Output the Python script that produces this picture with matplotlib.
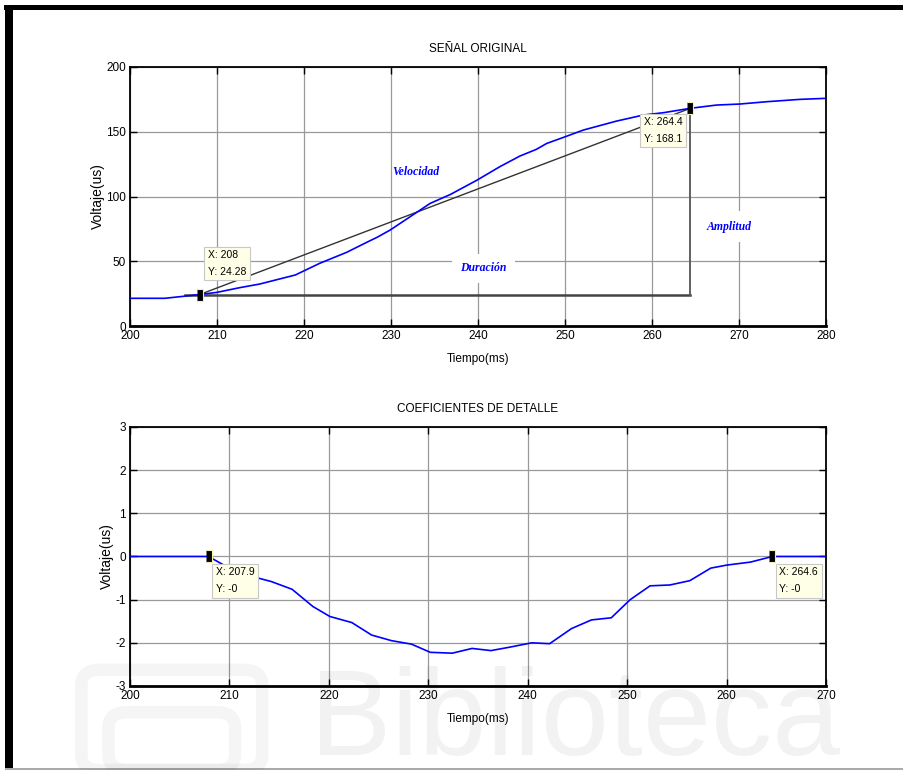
import matplotlib.pyplot as plt
from matplotlib.patches import Rectangle, FancyBboxPatch

plt.rcParams['font.family'] = ['Liberation Sans Narrow', 'Liberation Sans', 'DejaVu Sans']
plt.rcParams['axes.unicode_minus'] = False

# señal original (ms, us)
t_sig = [200, 204, 208, 210, 212.6, 214.9, 219, 221.8, 224.9, 227.2, 228.4, 229.9,
         232.2, 234.5, 236.8, 239.9, 242.5, 244.8, 246.7, 247.9, 249.8, 252.1,
         255.9, 259, 261.3, 264.4, 267.4, 270.1, 273.2, 277, 280]
v_sig = [21.4, 21.4, 24.28, 26, 29.6, 32.4, 39.4, 48.4, 56.9, 64.6, 68.5, 74.1,
         84.4, 94.7, 101.5, 112.7, 123, 131.2, 136.4, 141, 145.6, 151.3,
         158.2, 162.9, 164.7, 168.1, 170.6, 171.4, 173.2, 175, 175.8]

# coeficientes de detalle
t_det = [200, 207.9, 209.9, 212.4, 214.2, 216.3, 218.4, 220.1, 222.3, 224.3, 226.3,
         228.3, 230.2, 232.4, 234.4, 236.3, 238.2, 240.4, 242.2, 244.4, 246.4,
         248.4, 250.3, 252.3, 254.3, 256.3, 258.4, 260.0, 262.4, 264.6, 270]
v_det = [0, 0, -0.26, -0.47, -0.58, -0.76, -1.16, -1.39, -1.53, -1.82, -1.95,
         -2.03, -2.22, -2.24, -2.13, -2.18, -2.10, -2.0, -2.02, -1.67, -1.47,
         -1.42, -1.0, -0.68, -0.66, -0.56, -0.27, -0.20, -0.13, 0, 0]

# data tips
tips_sig = [(208, 24.28, 'X: 208\nY: 24.28'), (264.4, 168.1, 'X: 264.4\nY: 168.1')]
tips_det = [(207.9, 0, 'X: 207.9\nY: -0'), (264.6, 0, 'X: 264.6\nY: -0')]

x_ticks_sig = list(range(200, 281, 10))
y_ticks_sig = list(range(0, 201, 50))
x_ticks_det = list(range(200, 271, 10))
y_ticks_det = list(range(-3, 4))

BLUE = '#0000ff'
tip_marker = [(-0.5, -1), (0.5, -1), (0.5, 1), (-0.5, 1)]

fig = plt.figure(figsize=(9.04, 7.70), dpi=100)
fig.patch.set_facecolor('white')


def style_axes(ax, xt, yt):
    ax.set_xticks(xt)
    ax.set_yticks(yt)
    ax.set_xlim(xt[0], xt[-1])
    ax.set_ylim(yt[0], yt[-1])
    ax.tick_params(direction='in', top=True, right=True, length=5, width=1,
                   labelsize=8.5, pad=3)
    ax.grid(True, color='#999999', lw=0.9)
    for s in ax.spines.values():
        s.set_linewidth(1.3)
    ax.spines['bottom'].set_linewidth(2)
    ax.set_axisbelow(True)
    ax.set_ylabel('Voltaje(us)', family=['Liberation Sans', 'DejaVu Sans'],
                  fontsize=10, labelpad=1)
    ax.set_xlabel('Tiempo(ms)', fontsize=8.5, labelpad=8)


def data_tip(ax, x, y, label, dx, dy, ha, va):
    ax.plot([x], [y], marker=tip_marker, ms=9, color='black', mec='#f5f0b0',
            mew=0.8, zorder=6)
    ax.annotate(label, (x, y), xytext=(dx, dy), textcoords='offset pixels',
                ha=ha, va=va, fontsize=7.5, linespacing=1.8, zorder=7,
                bbox=dict(boxstyle='square,pad=0.35', fc='#ffffe8', ec='#c8c8c8', lw=0.8))


# --- señal original ---
ax1 = fig.add_axes([0.1438, 0.5766, 0.770, 0.3364])
ax1.plot(t_sig, v_sig, color=BLUE, lw=1.2, zorder=4)
x0, y0, _ = tips_sig[0]
x1, y1, _ = tips_sig[1]
ax1.plot([x0, x1], [y0, y1], color='#333333', lw=1.0, zorder=3)
ax1.plot([206.3, x1], [y0, y0], color='#444444', lw=1.8, zorder=3)
ax1.plot([x1, x1], [y0, y1], color='#555555', lw=1.3, zorder=3)
style_axes(ax1, x_ticks_sig, y_ticks_sig)
ax1.set_title('SEÑAL ORIGINAL', fontsize=8.5, pad=11)

lbl = dict(color=BLUE, fontsize=8.5, style='italic', weight='bold',
           family=['Liberation Serif', 'DejaVu Serif'], ha='center', va='center', zorder=5)
ax1.text(232.8, 119, 'Velocidad', **lbl)
ax1.text(240.6, 44.5, 'Duración', bbox=dict(boxstyle='square,pad=0.7', fc='white', ec='none'), **lbl)
ax1.text(268.9, 76.7, 'Amplitud', bbox=dict(boxstyle='square,pad=0.8', fc='white', ec='none'), **lbl)

data_tip(ax1, x0, y0, tips_sig[0][2], 8, 18, 'left', 'bottom')
data_tip(ax1, x1, y1, tips_sig[1][2], -8, -9, 'right', 'top')

# --- coeficientes de detalle ---
ax2 = fig.add_axes([0.1438, 0.1091, 0.770, 0.3364])
ax2.plot(t_det, v_det, color=BLUE, lw=1.2, zorder=4)
style_axes(ax2, x_ticks_det, y_ticks_det)
ax2.set_title('COEFICIENTES DE DETALLE', fontsize=8.5, pad=11)
for x, y, label in tips_det:
    data_tip(ax2, x, y, label, 7, -11, 'left', 'top')

# marco de la captura
fig.add_artist(Rectangle((0.004, 0.987), 0.996, 0.007, transform=fig.transFigure,
                         fc='black', ec='none'))
fig.add_artist(Rectangle((0.006, 0.003), 0.008, 0.99, transform=fig.transFigure,
                         fc='black', ec='none'))
fig.add_artist(Rectangle((0.006, 0.0), 0.994, 0.003, transform=fig.transFigure,
                         fc='#aaaaaa', ec='none'))

# marca de agua
fig.text(0.343, 0.02, 'Biblioteca', fontsize=88, color='black', alpha=0.05,
         family=['Liberation Sans', 'DejaVu Sans'], ha='left', va='baseline', zorder=10)
for (x, y, w, h) in [(0.09, 0.0, 0.2, 0.13), (0.12, 0.0, 0.14, 0.075)]:
    fig.add_artist(FancyBboxPatch((x, y), w, h, boxstyle='round,pad=0,rounding_size=0.02',
                                  transform=fig.transFigure, fc='none', ec='black',
                                  lw=9, alpha=0.04, zorder=10))

fig.savefig('out.png', dpi=100)
